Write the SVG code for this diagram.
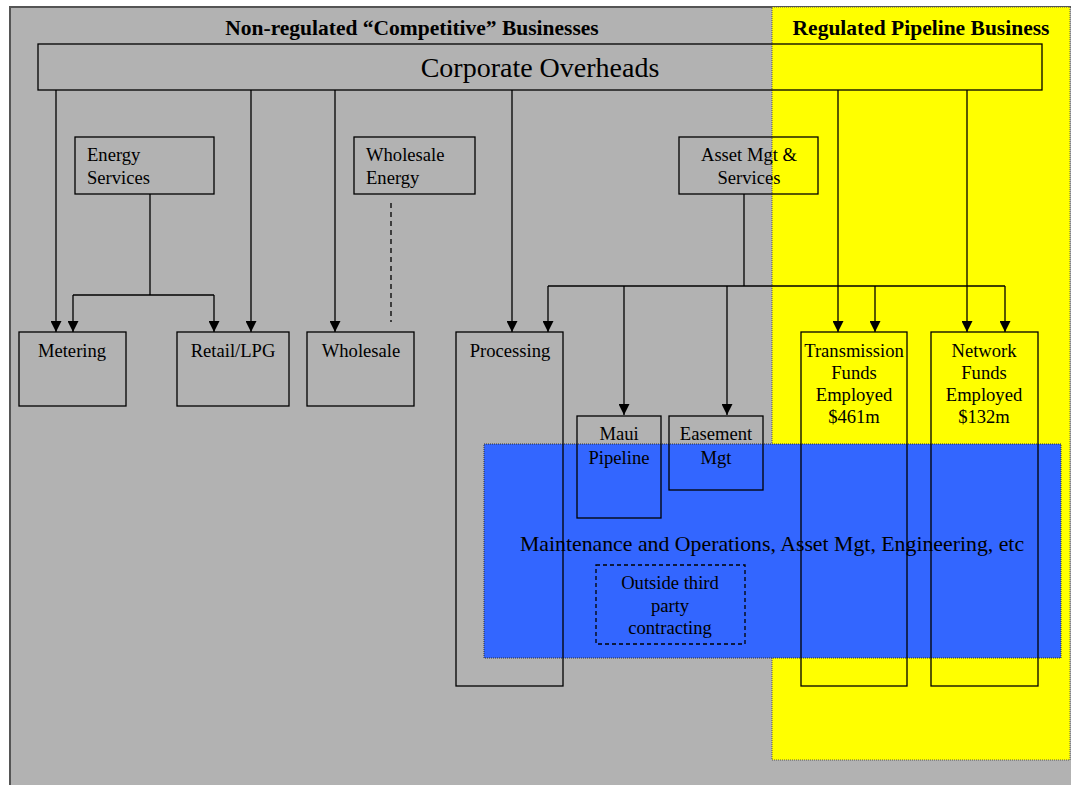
<svg xmlns="http://www.w3.org/2000/svg" width="1071" height="785" viewBox="0 0 1071 785">
<style>
.box{fill:none;stroke:#000;stroke-width:1.3}
.t{font-family:"Liberation Serif","Times New Roman",serif;font-size:18.6px;fill:#000}
.c{text-anchor:middle}
.h{font-family:"Liberation Serif","Times New Roman",serif;font-size:21.5px;font-weight:bold;text-anchor:middle}
.ln{fill:none;stroke:#000;stroke-width:1.3}
</style>
<defs>
<marker id="a" markerWidth="11" markerHeight="11" refX="11" refY="5.5" orient="auto" markerUnits="userSpaceOnUse" viewBox="0 0 11 11">
<path d="M0,0 L11,5.5 L0,11 Z" fill="#000"/>
</marker>
</defs>
<rect x="0" y="0" width="1071" height="785" fill="#fff"/>
<rect id="bg-nonreg" x="10" y="7" width="1070" height="790" fill="#B2B2B2" stroke="#555" stroke-width="2"/>
<rect id="bg-reg" x="772" y="7" width="298" height="753" fill="#FFFF00" stroke="#555" stroke-width="1" stroke-dasharray="1 1"/>
<rect id="bg-maint" x="484" y="444" width="577" height="214" fill="#3366FF" stroke="#333" stroke-width="1" stroke-dasharray="1 1"/>
<text class="h" x="412" y="35">Non-regulated “Competitive” Businesses</text>
<text class="h" x="921" y="35">Regulated Pipeline Business</text>
<text class="t c" x="772" y="551" style="font-size:21.8px">Maintenance and Operations, Asset Mgt, Engineering, etc</text>

<g id="connectors">
<path class="ln" d="M56,90 V332" marker-end="url(#a)"/>
<path class="ln" d="M251,90 V332" marker-end="url(#a)"/>
<path class="ln" d="M335,90 V332" marker-end="url(#a)"/>
<path class="ln" d="M512,90 V332" marker-end="url(#a)"/>
<path class="ln" d="M838,90 V332" marker-end="url(#a)"/>
<path class="ln" d="M967,90 V332" marker-end="url(#a)"/>
<path class="ln" d="M150,194 V295"/>
<path class="ln" d="M73,295 H214"/>
<path class="ln" d="M73,295 V332" marker-end="url(#a)"/>
<path class="ln" d="M214,295 V332" marker-end="url(#a)"/>
<path class="ln" d="M391,203 V322" stroke-dasharray="5 4"/>
<path class="ln" d="M744,194 V286"/>
<path class="ln" d="M548,286 H1005"/>
<path class="ln" d="M548,286 V332" marker-end="url(#a)"/>
<path class="ln" d="M624,286 V415" marker-end="url(#a)"/>
<path class="ln" d="M727,286 V415" marker-end="url(#a)"/>
<path class="ln" d="M875,286 V332" marker-end="url(#a)"/>
<path class="ln" d="M1005,286 V332" marker-end="url(#a)"/>
</g>

<g id="corporate-overheads">
<rect class="box" x="38" y="44" width="1004" height="46"/>
<text class="t c" x="540" y="77" style="font-size:28px">Corporate Overheads</text>
</g>
<g id="energy-services">
<rect class="box" x="75" y="137" width="139" height="57"/>
<text class="t" x="87" y="161">Energy</text>
<text class="t" x="87" y="184">Services</text>
</g>
<g id="wholesale-energy">
<rect class="box" x="354" y="137" width="121" height="57"/>
<text class="t" x="366" y="161">Wholesale</text>
<text class="t" x="366" y="184">Energy</text>
</g>
<g id="asset-mgt">
<rect class="box" x="679" y="137" width="139" height="57"/>
<text class="t c" x="749" y="161">Asset Mgt &amp;</text>
<text class="t c" x="749" y="184">Services</text>
</g>
<g id="metering">
<rect class="box" x="19" y="332" width="107" height="74"/>
<text class="t c" x="72" y="357">Metering</text>
</g>
<g id="retail-lpg">
<rect class="box" x="177" y="332" width="112" height="74"/>
<text class="t c" x="233" y="357">Retail/LPG</text>
</g>
<g id="wholesale">
<rect class="box" x="307" y="332" width="107" height="74"/>
<text class="t c" x="361" y="357">Wholesale</text>
</g>
<g id="processing">
<rect class="box" x="456" y="332" width="107" height="354"/>
<text class="t c" x="510" y="357">Processing</text>
</g>
<g id="maui-pipeline">
<rect class="box" x="577" y="416" width="84" height="102"/>
<text class="t c" x="619" y="440">Maui</text>
<text class="t c" x="619" y="464">Pipeline</text>
</g>
<g id="easement-mgt">
<rect class="box" x="669" y="416" width="94" height="74"/>
<text class="t c" x="716" y="440">Easement</text>
<text class="t c" x="716" y="464">Mgt</text>
</g>
<g id="transmission">
<rect class="box" x="801" y="332" width="106" height="354"/>
<text class="t c" x="854" y="357">Transmission</text>
<text class="t c" x="854" y="379">Funds</text>
<text class="t c" x="854" y="401">Employed</text>
<text class="t c" x="854" y="423">$461m</text>
</g>
<g id="network">
<rect class="box" x="931" y="332" width="107" height="354"/>
<text class="t c" x="984" y="357">Network</text>
<text class="t c" x="984" y="379">Funds</text>
<text class="t c" x="984" y="401">Employed</text>
<text class="t c" x="984" y="423">$132m</text>
</g>
<g id="outside-contracting">
<rect class="box" x="596" y="565" width="149" height="79" stroke-width="1.6" stroke-dasharray="4 3"/>
<text class="t c" x="670" y="589">Outside third</text>
<text class="t c" x="670" y="612">party</text>
<text class="t c" x="670" y="634">contracting</text>
</g>
</svg>
